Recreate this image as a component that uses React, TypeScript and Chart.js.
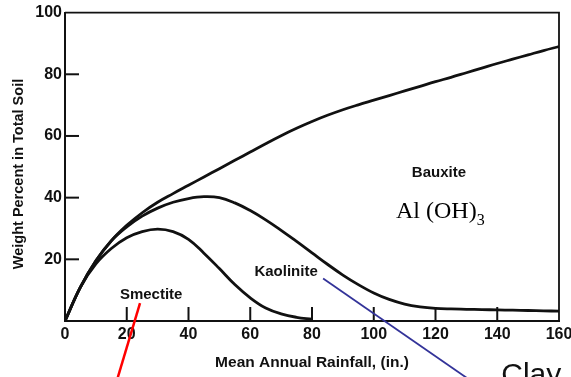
import React, { useEffect, useRef } from 'react';
import { Chart, registerables } from 'chart.js';

Chart.register(...registerables);

// Mean annual rainfall (in.)
const rainfall = [0, 5, 10, 15, 20, 25, 30, 35, 40, 45, 50, 55, 60, 65, 70, 75, 80, 85, 90, 95, 100, 105, 110, 115, 120, 125, 130, 135, 140, 145, 150, 155, 160];
// Upper curve (total, bauxite boundary)
const totalCurve = [0, 11, 19.5, 26, 31, 35.1, 38.5, 41.3, 44, 46.7, 49.4, 52.1, 54.8, 57.5, 60.1, 62.5, 64.7, 66.7, 68.5, 70.1, 71.6, 73.1, 74.6, 76.1, 77.6, 79, 80.5, 82, 83.5, 84.9, 86.3, 87.7, 89];
// Kaolinite
const kaolinite = [0, 11, 19.5, 26, 30.5, 34, 36.6, 38.5, 39.7, 40.3, 40, 38.3, 35.8, 32.8, 29.4, 25.8, 22.1, 18.4, 14.9, 11.8, 9.1, 7, 5.5, 4.6, 4.1, 3.9, 3.8, 3.7, 3.6, 3.5, 3.4, 3.3, 3.2];
// Smectite
const smectite = [0, 11, 18.5, 23.5, 27, 29, 29.8, 29, 26.5, 22, 17, 11.8, 7.5, 4.2, 2.3, 1.2, 0.6, null, null, null, null, null, null, null, null, null, null, null, null, null, null, null, null];

const xTickValues = [0, 20, 40, 60, 80, 100, 120, 140, 160];
const yTickValues = [20, 40, 60, 80, 100];

const xTitle = 'Mean Annual Rainfall, (in.)';
const yTitle = 'Weight Percent in Total Soil';

const SANS = '"Liberation Sans", Arial, sans-serif';
const SERIF = '"Liberation Serif", "Times New Roman", serif';

export default function App() {
  const canvasRef = useRef<HTMLCanvasElement | null>(null);

  useEffect(() => {
    document.body.style.margin = '0';
    const canvas = canvasRef.current;
    if (!canvas) return;

    const decor = {
      id: 'decor',
      afterDraw(chart: any) {
        const { ctx, chartArea } = chart;
        const xs = chart.scales.x;
        const ys = chart.scales.y;
        const { left, right, top, bottom } = chartArea;
        ctx.save();
        ctx.strokeStyle = '#111';
        ctx.lineWidth = 1.8;
        // top & right border
        ctx.beginPath();
        ctx.moveTo(left, top);
        ctx.lineTo(right, top);
        ctx.lineTo(right, bottom);
        ctx.stroke();
        // inward ticks
        ctx.lineWidth = 2;
        xTickValues.forEach((v) => {
          if (v === xTickValues[0] || v === xTickValues[xTickValues.length - 1]) return;
          const px = xs.getPixelForValue(v);
          ctx.beginPath();
          ctx.moveTo(px, bottom);
          ctx.lineTo(px, bottom - 14);
          ctx.stroke();
        });
        yTickValues.forEach((v) => {
          if (v === 100) return;
          const py = ys.getPixelForValue(v);
          ctx.beginPath();
          ctx.moveTo(left, py);
          ctx.lineTo(left + 14, py);
          ctx.stroke();
        });

        // Axis titles
        ctx.fillStyle = '#111';
        ctx.font = `bold 15.5px ${SANS}`;
        ctx.textAlign = 'center';
        ctx.textBaseline = 'middle';
        ctx.fillText(xTitle, (left + right) / 2, bottom + 42);
        ctx.save();
        ctx.translate(19, 174);
        ctx.rotate(-Math.PI / 2);
        ctx.font = `bold 14.5px ${SANS}`;
        ctx.fillText(yTitle, 0, 0);
        ctx.restore();

        // Annotations
        ctx.font = `bold 15px ${SANS}`;
        ctx.fillText('Bauxite', xs.getPixelForValue(121.1), ys.getPixelForValue(47.9));
        ctx.fillText('Smectite', xs.getPixelForValue(27.9), ys.getPixelForValue(8.6));
        ctx.fillText('Kaolinite', xs.getPixelForValue(71.6), ys.getPixelForValue(15.8));

        // Al (OH)3
        ctx.textAlign = 'left';
        ctx.textBaseline = 'alphabetic';
        ctx.fillStyle = '#000';
        ctx.font = `24px ${SERIF}`;
        const alX = xs.getPixelForValue(107.2);
        const alY = ys.getPixelForValue(33.4);
        ctx.fillText('Al (OH)', alX, alY);
        const w = ctx.measureText('Al (OH)').width;
        ctx.font = `16px ${SERIF}`;
        ctx.fillText('3', alX + w, alY + 7);

        // pointer lines
        ctx.lineWidth = 2.5;
        ctx.strokeStyle = '#ff0000';
        ctx.beginPath();
        ctx.moveTo(xs.getPixelForValue(24.3), ys.getPixelForValue(5.8));
        ctx.lineTo(xs.getPixelForValue(16.5), ys.getPixelForValue(-20.3));
        ctx.stroke();
        ctx.lineWidth = 1.8;
        ctx.strokeStyle = '#333399';
        ctx.beginPath();
        ctx.moveTo(xs.getPixelForValue(83.6), ys.getPixelForValue(13.8));
        ctx.lineTo(xs.getPixelForValue(132.8), ys.getPixelForValue(-20.3));
        ctx.stroke();

        // Clay
        ctx.fillStyle = '#111';
        ctx.font = `30px ${SANS}`;
        ctx.fillText('Clay', xs.getPixelForValue(141.3), ys.getPixelForValue(-20.5));
        ctx.restore();
      },
    };

    const lineStyle = {
      borderColor: '#111',
      borderWidth: 2.8,
      pointRadius: 0,
      fill: false,
      tension: 0.4,
      spanGaps: false,
    };

    const chart = new Chart(canvas, {
      type: 'line',
      data: {
        labels: rainfall,
        datasets: [
          { ...lineStyle, label: 'Total', data: rainfall.map((x, i) => ({ x, y: totalCurve[i] })) },
          { ...lineStyle, label: 'Kaolinite', data: rainfall.map((x, i) => ({ x, y: kaolinite[i] })) },
          { ...lineStyle, label: 'Smectite', data: rainfall.map((x, i) => ({ x, y: smectite[i] })) },
        ],
      },
      options: {
        animation: false,
        responsive: false,
        events: [],
        layout: { padding: { top: 10, right: 0, left: 0, bottom: 0 } },
        plugins: { legend: { display: false }, tooltip: { enabled: false } },
        scales: {
          x: {
            type: 'linear',
            min: 0,
            max: 160,
            afterFit: (s: any) => { s.height = 56; s.paddingRight = 12; s.paddingLeft = 0; },
            grid: { display: false, drawTicks: false },
            border: { display: true, color: '#111', width: 2 },
            ticks: {
              stepSize: 20,
              padding: 4,
              color: '#111',
              font: { family: SANS, size: 16, weight: 'bold' },
            },
          },
          y: {
            type: 'linear',
            min: 0,
            max: 100,
            afterFit: (s: any) => { s.width = 65; },
            grid: { display: false, drawTicks: false },
            border: { display: true, color: '#111', width: 2 },
            ticks: {
              stepSize: 20,
              padding: 3,
              color: '#111',
              font: { family: SANS, size: 16, weight: 'bold' },
              callback: (v: any) => (v === 0 ? '' : String(v)),
            },
          },
        },
      },
      plugins: [decor],
    });

    return () => chart.destroy();
  }, []);

  return (
    <div style={{ width: 571, height: 377, background: '#fff' }}>
      <canvas ref={canvasRef} width={571} height={377} />
    </div>
  );
}
